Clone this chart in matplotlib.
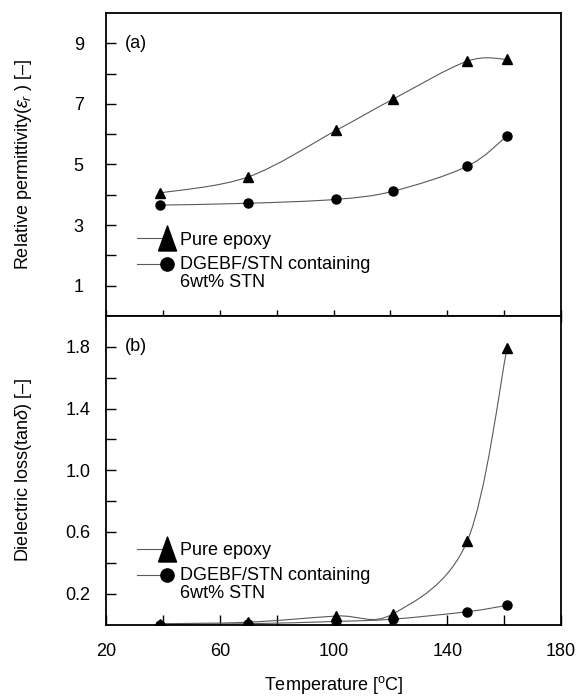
import numpy as np
import matplotlib
matplotlib.use('Agg')
import matplotlib.pyplot as plt
from matplotlib.path import Path
from matplotlib.patches import PathPatch
from matplotlib.lines import Line2D
from matplotlib.legend_handler import HandlerLine2DCompound

plt.rcParams['font.family'] = ['Liberation Sans', 'DejaVu Sans']
plt.rcParams['mathtext.fontset'] = 'custom'
plt.rcParams['mathtext.rm'] = 'Liberation Sans'
plt.rcParams['mathtext.it'] = 'Liberation Sans:italic'

# temperatures (degC)
temp = [39, 70, 101, 121, 147, 161]

# (a) relative permittivity
eps_epoxy = [4.06, 4.59, 6.13, 7.16, 8.41, 8.47]
eps_stn = [3.66, 3.72, 3.85, 4.12, 4.94, 5.94]

# (b) dielectric loss tan(delta)
tan_epoxy = [0.005, 0.015, 0.055, 0.07, 0.54, 1.79]
tan_stn = [0.0, 0.005, 0.02, 0.035, 0.083, 0.124]

lab_epoxy = 'Pure epoxy'
lab_stn = 'DGEBF/STN containing\n6wt% STN'

LINE_C = '0.35'
TALL_TRI = [(-0.72, -1.0), (0.72, -1.0), (0.0, 1.0), (-0.72, -1.0)]


def smooth_line(ax, x, y):
    # catmull-rom style bezier path through the points (drawing only)
    p = np.column_stack([np.asarray(x, float), np.asarray(y, float)])
    verts = [p[0]]
    codes = [Path.MOVETO]
    n = len(p)
    for i in range(n - 1):
        p0 = p[i - 1] if i > 0 else p[i]
        p3 = p[i + 2] if i + 2 < n else p[i + 1]
        c1 = p[i] + (p[i + 1] - p0) / 6.0
        c2 = p[i + 1] - (p3 - p[i]) / 6.0
        verts += [c1, c2, p[i + 1]]
        codes += [Path.CURVE4] * 3
    ax.add_patch(PathPatch(Path(verts, codes), fill=False, edgecolor=LINE_C,
                           lw=0.8, zorder=2))


class EndMarker(HandlerLine2DCompound):
    # marker at the right end of the legend line, optionally raised
    def __init__(self, yoff=0.0, **kw):
        super().__init__(**kw)
        self.yoff = yoff

    def get_xdata(self, legend, xdescent, ydescent, width, height, fontsize):
        xdata = np.array([-xdescent, -xdescent + width])
        return xdata, np.array([-xdescent + width])

    def create_artists(self, legend, orig_handle, xdescent, ydescent,
                       width, height, fontsize, trans):
        arts = super().create_artists(legend, orig_handle, xdescent,
                                      ydescent, width, height, fontsize, trans)
        for a in arts:
            a.set_ydata(np.asarray(a.get_ydata()) + self.yoff)
        return arts


def add_legend(ax, y):
    h1 = Line2D([], [], color=LINE_C, lw=0.8, marker=TALL_TRI, ms=18,
                mfc='k', mec='k')
    h2 = Line2D([], [], color=LINE_C, lw=0.8, marker='o', ms=9.5,
                mfc='k', mec='k')
    leg = ax.legend([h1, h2], [lab_epoxy, lab_stn], loc='center left',
                    bbox_to_anchor=(0.068, y), frameon=False, fontsize=13,
                    handlelength=1.65, handletextpad=0.75, borderpad=0,
                    borderaxespad=0, labelspacing=0.4,
                    handler_map={h1: EndMarker(), h2: EndMarker(yoff=7.0)})
    for t in leg.get_texts():
        t.set_linespacing(1.1)


fig = plt.figure(figsize=(5.77, 6.96), dpi=100)
ax1 = fig.add_axes([0.1837, 0.546, 0.7886, 0.4353])
ax2 = fig.add_axes([0.1837, 0.1027, 0.7886, 0.4432])

# panel (a)
smooth_line(ax1, temp, eps_epoxy)
smooth_line(ax1, temp, eps_stn)
ax1.plot(temp, eps_epoxy, ls='none', marker='^', ms=7, color='k', zorder=3)
ax1.plot(temp, eps_stn, ls='none', marker='o', ms=6.5, color='k', zorder=3)
ax1.set_xlim(20, 180)
ax1.set_ylim(0, 10)
ax1.set_yticks([1, 3, 5, 7, 9])
ax1.set_yticks([2, 4, 6, 8], minor=True)
ax1.set_xticks(range(20, 181, 20))
ax1.set_xticklabels([])
ax1.tick_params(axis='y', which='both', direction='in', length=7, width=1,
                labelsize=13, pad=16, right=False)
ax1.tick_params(axis='x', which='both', direction='inout', length=9, width=1,
                top=False)
ax1.set_ylabel(r'Relative permittivity($\varepsilon_r$ ) [–]', fontsize=13)
ax1.yaxis.set_label_coords(-0.159, 0.5)
ax1.text(0.042, 0.9, '(a)', transform=ax1.transAxes, fontsize=13,
         va='center', ha='left')
add_legend(ax1, 0.18)

# panel (b)
smooth_line(ax2, temp, tan_epoxy)
smooth_line(ax2, temp, tan_stn)
ax2.plot(temp, tan_epoxy, ls='none', marker='^', ms=7, color='k', zorder=3)
ax2.plot(temp, tan_stn, ls='none', marker='o', ms=6.5, color='k', zorder=3)
ax2.set_xlim(20, 180)
ax2.set_ylim(0, 2.0)
ax2.set_yticks([0.2, 0.6, 1.0, 1.4, 1.8])
ax2.set_yticks([0.4, 0.8, 1.2, 1.6], minor=True)
ax2.set_xticks(range(20, 181, 20))
ax2.set_xticklabels(['20', '', '60', '', '100', '', '140', '', '180'])
ax2.tick_params(axis='y', which='both', direction='in', length=7, width=1,
                labelsize=13, pad=11, right=False)
ax2.tick_params(axis='x', which='both', direction='in', length=7, width=1,
                labelsize=13, pad=13.5, top=False)
ax2.set_ylabel(r'Dielectric loss(tan$\delta$) [–]', fontsize=13)
ax2.yaxis.set_label_coords(-0.159, 0.5)
ax2.set_xlabel(r'Temperature [$^{\mathrm{o}}$C]', fontsize=13)
ax2.xaxis.set_label_coords(0.5, -0.16)
ax2.text(0.042, 0.9, '(b)', transform=ax2.transAxes, fontsize=13,
         va='center', ha='left')
add_legend(ax2, 0.17)

for ax in (ax1, ax2):
    for s in ax.spines.values():
        s.set_linewidth(1.3)

fig.savefig('out.png', dpi=100)
